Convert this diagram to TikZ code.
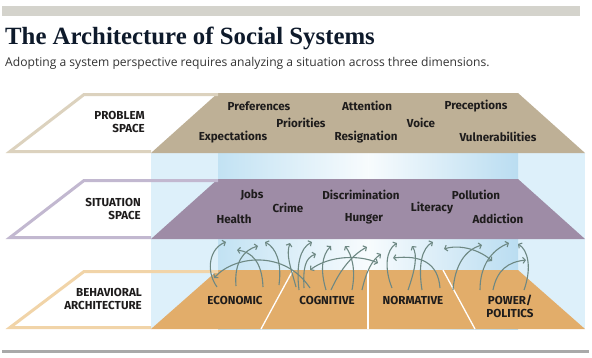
\documentclass[tikz,border=0pt]{standalone}
\usepackage{fontspec}
\usetikzlibrary{arrows.meta}
\newfontfamily\titlefont{Liberation Serif}
\newfontfamily\subfont{Open Sans}
\newfontfamily\labfont{Fira Sans}
\definecolor{barcol}{HTML}{D4D3CC}
\definecolor{botbar}{HTML}{A9A9A9}
\definecolor{titlecol}{HTML}{0E1A2B}
\definecolor{subcol}{HTML}{333333}
\definecolor{labtext}{HTML}{1E1C1C}
\definecolor{probfill}{HTML}{BEB096}
\definecolor{probline}{HTML}{DCD2BE}
\definecolor{sitfill}{HTML}{9E8CA6}
\definecolor{sitline}{HTML}{C2B8D0}
\definecolor{behfill}{HTML}{E2AD6A}
\definecolor{behline}{HTML}{F1D4A8}
\definecolor{sidecol}{HTML}{DDF0FA}
\definecolor{backL}{HTML}{C2E2F3}
\definecolor{backR}{HTML}{BADDF1}
\definecolor{arrcol}{HTML}{6D8883}
\begin{document}
\begin{tikzpicture}[x=1pt,y=-1pt,
  lab/.style={font=\labfont\bfseries\fontsize{11.6}{13}\selectfont, text=labtext, inner sep=0pt},
  word/.style={lab, anchor=center},
  side/.style={lab, align=right, anchor=east},
  cat/.style={lab, align=center, anchor=center},
  outl/.style={line width=3pt, line join=miter},
  divider/.style={draw=white, line width=1.3pt},
  arr/.style={draw=arrcol, line width=1.1pt, -{Straight Barb[length=2.5pt,width=6pt]}},
  arrb/.style={draw=arrcol, line width=1.1pt, {Straight Barb[length=2.5pt,width=6pt]}-{Straight Barb[length=2.5pt,width=6pt]}}
]
\useasboundingbox (0,0) rectangle (592,357);
\fill[white] (0,0) rectangle (592,357);

% header
\fill[barcol] (2,6) rectangle (580,16);
\node[anchor=base west, inner sep=0pt, text=titlecol, font=\titlefont\bfseries\fontsize{24.8}{27}\selectfont] (title) at (5,44) {The Architecture of Social Systems};
\node[anchor=base west, inner sep=0pt, text=subcol, font=\subfont\fontsize{12.1}{14}\selectfont] (subtitle) at (5,66) {Adopting a system perspective requires analyzing a situation across three dimensions.};

% blue column
\fill[sidecol] (151,153) rectangle (585,329);
\shade[left color=backL, right color=backR, middle color=white!88!backL] (218,153) rectangle (518,329);

% planes
\fill[probfill] (218,93) -- (518,93) -- (585,153) -- (151,153) -- cycle;
\fill[sitfill] (218,179) -- (518,179) -- (585,239) -- (151,239) -- cycle;
\fill[behfill] (218,270) -- (518,270) -- (585,329) -- (151,329) -- cycle;

\draw[outl, draw=probline] (218,94.5) -- (84,94.5) -- (10,151.5) -- (151,151.5);
\draw[outl, draw=sitline] (218,180.5) -- (84,180.5) -- (10,237.5) -- (151,237.5);
\draw[outl, draw=behline] (218,271.5) -- (84,271.5) -- (10,327.5) -- (151,327.5);

\draw[divider] (293,270) -- (261,329);
\draw[divider] (368,270) -- (368,329);
\draw[divider] (443,270) -- (475,329);

% arrows
\draw[arr] (217,287) .. controls (205,270) and (210,248) .. (226,242);
\draw[arr] (236,286) .. controls (234,262) and (244,250) .. (258,246);
\draw[arr] (263,287) .. controls (262,262) and (252,252) .. (237,250);
\draw[arr] (279,285) .. controls (282,262) and (276,248) .. (265,242);
\draw[arr] (296,287) .. controls (290,265) and (286,255) .. (290,243);
\draw[arr] (310,288) .. controls (285,250) and (235,255) .. (214,278);
\draw[arr] (299,290) .. controls (296,265) and (300,248) .. (312,242);
\draw[arr] (304,288) .. controls (303,268) and (305,258) .. (316,254);
\draw[arrb] (310,270) .. controls (330,255) and (360,255) .. (378,263);
\draw[arr] (326,290) .. controls (320,270) and (322,255) .. (331,246);
\draw[arr] (352,290) .. controls (356,270) and (352,255) .. (345,246);
\draw[arr] (331,290) .. controls (340,270) and (352,255) .. (367,247);
\draw[arr] (362,290) .. controls (366,272) and (372,260) .. (381,254);
\draw[arr] (392,288) .. controls (384,268) and (386,250) .. (397,243);
\draw[arr] (408,290) .. controls (415,270) and (418,255) .. (412,246);
\draw[arr] (440,288) .. controls (438,262) and (420,255) .. (393,258);
\draw[arr] (422,290) .. controls (418,265) and (422,248) .. (433,242);
\draw[arrb] (444,249) .. controls (460,244) and (480,250) .. (492,261);
\draw[arr] (453,290) .. controls (455,265) and (465,250) .. (482,245);
\draw[arr] (480,290) .. controls (480,265) and (492,250) .. (509,243);
\draw[arr] (524,290) .. controls (532,268) and (528,250) .. (518,244);
\draw[arr] (493,290) .. controls (497,270) and (508,262) .. (526,260);

% side labels
\node[side] (probl) at (145,122) {PROBLEM\\SPACE};
\node[side] (sitl) at (141,209) {SITUATION\\SPACE};
\node[side] (behl) at (142,299) {BEHAVIORAL\\ARCHITECTURE};

% problem words
\node[word] (w1) at (259,106) {Preferences};
\node[word] (w2) at (301,123) {Priorities};
\node[word] (w3) at (233,137) {Expectations};
\node[word] (w4) at (367,106) {Attention};
\node[word] (w5) at (366,137) {Resignation};
\node[word] (w6) at (421,123) {Voice};
\node[word] (w7) at (476,106) {Preceptions};
\node[word] (w8) at (498,137) {Vulnerabilities};

% situation words
\node[word] (s1) at (252,195) {Jobs};
\node[word] (s2) at (288,208) {Crime};
\node[word] (s3) at (234,219) {Health};
\node[word] (s4) at (361,195) {Discrimination};
\node[word] (s5) at (364,219) {Hunger};
\node[word] (s6) at (432,208) {Literacy};
\node[word] (s7) at (476,195) {Pollution};
\node[word] (s8) at (498,219) {Addiction};

% categories
\node[cat] (c1) at (235,300) {ECONOMIC};
\node[cat] (c2) at (327,300) {COGNITIVE};
\node[cat] (c3) at (413,300) {NORMATIVE};
\node[cat] (c4) at (510,306) {POWER/\\POLITICS};

% bottom rule
\fill[botbar] (2,349.5) rectangle (589,352.5);
\end{tikzpicture}
\end{document}
